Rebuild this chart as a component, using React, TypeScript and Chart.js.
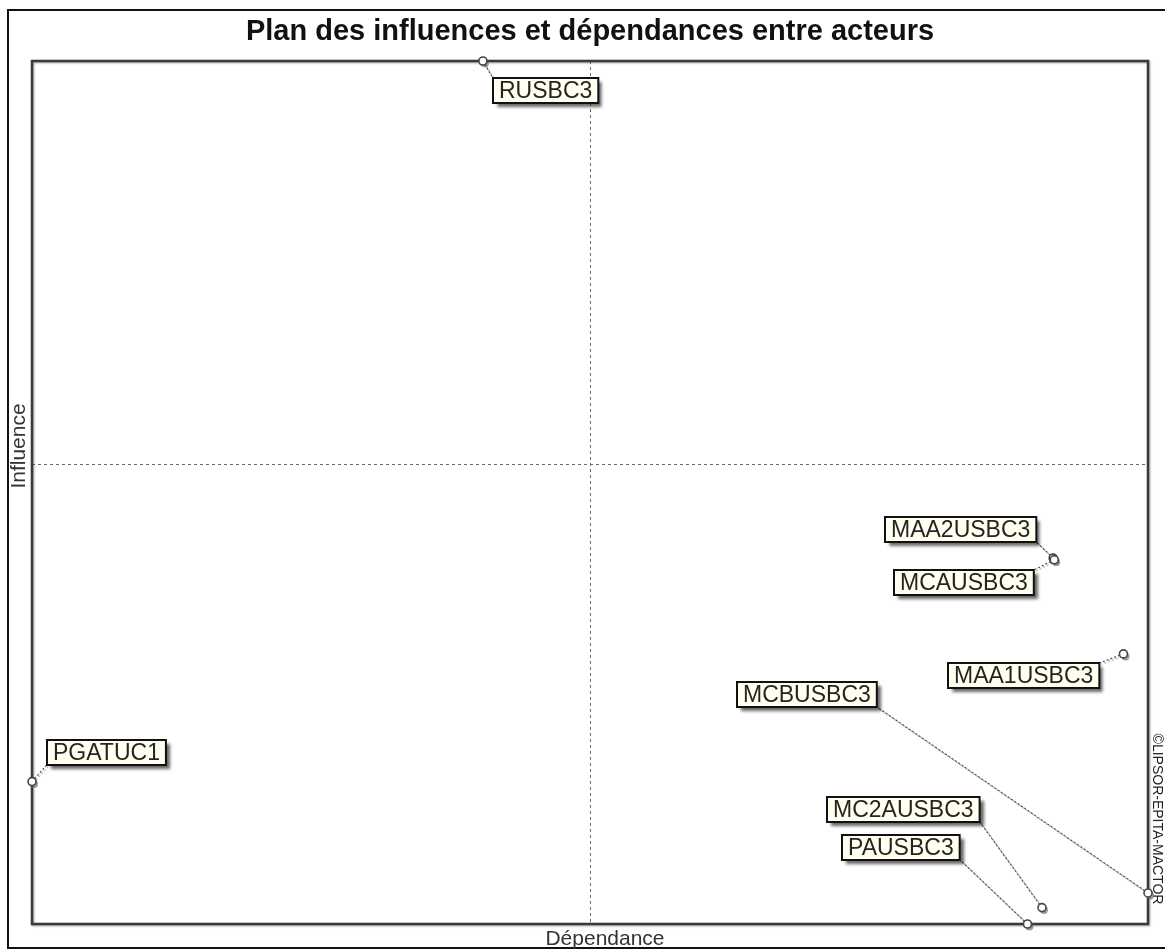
import React, { useEffect, useRef } from "react";
import { Chart, registerables } from "chart.js";

Chart.register(...registerables);

const chartTitle = "Plan des influences et dépendances entre acteurs";
const xAxisTitle = "Dépendance";
const yAxisTitle = "Influence";
const watermark = "©LIPSOR-EPITA-MACTOR";

const actors = ["RUSBC3", "MAA2USBC3", "MCAUSBC3", "MAA1USBC3", "MCBUSBC3", "MC2AUSBC3", "PAUSBC3", "PGATUC1"];
const dependance = [40.4, 91.5, 91.6, 97.8, 100, 90.5, 89.2, 0];
const influence = [100, 42.4, 42.2, 31.3, 3.6, 1.9, 0, 16.5];

const dependanceMid = 50.0;
const influenceMid = 53.3;
const axisMin = 0;
const axisMax = 100;

// label box offsets (pixels) relative to each point: [dx, dy] of the box's top-left corner
const labelOffsets: [number, number][] = [
  [10, 17],
  [-168, -41],
  [-160, 10],
  [-175, 9],
  [-411, -211],
  [-215, -111],
  [-185, -89],
  [15, -42],
];

const FONT = '"Liberation Sans", Arial, sans-serif';
const BOX_H = 25;
const BOX_PAD = 6;
const LABEL_FONT = `23px ${FONT}`;

const mactorPlugin = {
  id: "mactor",
  beforeDraw(chart: any) {
    const { ctx } = chart;
    ctx.save();
    ctx.fillStyle = "#ffffff";
    ctx.fillRect(0, 0, chart.width, chart.height);
    ctx.strokeStyle = "#111";
    ctx.lineWidth = 2;
    ctx.strokeRect(8, 10, 1170, 938);
    ctx.fillStyle = "#111";
    ctx.font = `bold 29px ${FONT}`;
    ctx.textAlign = "center";
    ctx.textBaseline = "alphabetic";
    ctx.fillText(chartTitle, 590, 40);
    ctx.font = `21px ${FONT}`;
    ctx.fillStyle = "#333";
    ctx.fillText(xAxisTitle, 605, 945);
    ctx.save();
    ctx.translate(25, 446);
    ctx.rotate(-Math.PI / 2);
    ctx.fillText(yAxisTitle, 0, 0);
    ctx.restore();
    ctx.save();
    ctx.font = `14px ${FONT}`;
    ctx.fillStyle = "#222";
    ctx.translate(1153, 819);
    ctx.rotate(Math.PI / 2);
    ctx.fillText(watermark, 0, 0);
    ctx.restore();
    ctx.restore();
  },
  beforeDatasetsDraw(chart: any) {
    const { ctx, chartArea: a, scales } = chart;
    const x = scales.x;
    const y = scales.y;
    ctx.save();
    const cx = x.getPixelForValue(dependanceMid);
    const cy = y.getPixelForValue(influenceMid);
    ctx.setLineDash([3, 3]);
    ctx.strokeStyle = "#6a6a6a";
    ctx.lineWidth = 1;
    ctx.beginPath();
    ctx.moveTo(Math.round(cx) + 0.5, a.top);
    ctx.lineTo(Math.round(cx) + 0.5, a.bottom);
    ctx.moveTo(a.left, Math.round(cy) + 0.5);
    ctx.lineTo(a.right, Math.round(cy) + 0.5);
    ctx.stroke();
    ctx.setLineDash([]);
    // inner frame with soft shadow
    ctx.save();
    ctx.shadowColor = "rgba(0,0,0,0.35)";
    ctx.shadowOffsetX = 1;
    ctx.shadowOffsetY = 1;
    ctx.shadowBlur = 2;
    ctx.strokeStyle = "#3a3a3a";
    ctx.lineWidth = 2.5;
    ctx.strokeRect(a.left, a.top, a.right - a.left, a.bottom - a.top);
    ctx.restore();
    // leader lines
    const meta = chart.getDatasetMeta(0);
    ctx.font = LABEL_FONT;
    meta.data.forEach((pt: any, i: number) => {
      const w = ctx.measureText(actors[i]).width + BOX_PAD * 2;
      const bx = pt.x + labelOffsets[i][0];
      const by = pt.y + labelOffsets[i][1];
      const corners = [
        [bx, by],
        [bx + w, by],
        [bx, by + BOX_H],
        [bx + w, by + BOX_H],
      ];
      let best = corners[0];
      let bd = Infinity;
      corners.forEach((c) => {
        const d = Math.hypot(c[0] - pt.x, c[1] - pt.y);
        if (d < bd) {
          bd = d;
          best = c;
        }
      });
      ctx.setLineDash([2, 2]);
      ctx.strokeStyle = "rgba(150,150,150,0.6)";
      ctx.lineWidth = 1.5;
      ctx.beginPath();
      ctx.moveTo(pt.x + 1.5, pt.y + 1.5);
      ctx.lineTo(best[0] + 1.5, best[1] + 1.5);
      ctx.stroke();
      ctx.strokeStyle = "#4a4a4a";
      ctx.lineWidth = 1.2;
      ctx.beginPath();
      ctx.moveTo(pt.x, pt.y);
      ctx.lineTo(best[0], best[1]);
      ctx.stroke();
      ctx.setLineDash([]);
      // point shadow
      ctx.fillStyle = "rgba(90,90,90,0.6)";
      ctx.beginPath();
      ctx.arc(pt.x + 2, pt.y + 2.5, 4, 0, Math.PI * 2);
      ctx.fill();
    });
    ctx.restore();
  },
  afterDatasetsDraw(chart: any) {
    const { ctx } = chart;
    const meta = chart.getDatasetMeta(0);
    ctx.save();
    ctx.font = LABEL_FONT;
    meta.data.forEach((pt: any, i: number) => {
      const tw = ctx.measureText(actors[i]).width;
      const w = tw + BOX_PAD * 2;
      const bx = Math.round(pt.x + labelOffsets[i][0]);
      const by = Math.round(pt.y + labelOffsets[i][1]);
      ctx.save();
      ctx.shadowColor = "rgba(0,0,0,0.6)";
      ctx.shadowOffsetX = 4;
      ctx.shadowOffsetY = 4;
      ctx.shadowBlur = 3;
      ctx.fillStyle = "#fffff0";
      ctx.fillRect(bx, by, w, BOX_H);
      ctx.restore();
      ctx.strokeStyle = "#111";
      ctx.lineWidth = 2;
      ctx.strokeRect(bx, by, w, BOX_H);
      ctx.fillStyle = "#2a2222";
      ctx.textAlign = "left";
      ctx.textBaseline = "middle";
      ctx.fillText(actors[i], bx + BOX_PAD, by + BOX_H / 2 + 1);
    });
    ctx.restore();
  },
};

export default function App() {
  const canvasRef = useRef<HTMLCanvasElement>(null);
  useEffect(() => {
    if (!canvasRef.current) return;
    const chart = new Chart(canvasRef.current, {
      type: "scatter",
      data: {
        labels: actors,
        datasets: [
          {
            label: "Acteurs",
            data: dependance.map((d, i) => ({ x: d, y: influence[i] })),
            pointRadius: 4,
            pointHoverRadius: 4,
            pointStyle: "circle",
            borderColor: "#444",
            backgroundColor: "#ffffff",
            borderWidth: 1.6,
            clip: false as any,
          },
        ],
      },
      options: {
        responsive: false,
        maintainAspectRatio: false,
        animation: false,
        layout: { padding: { left: 32, top: 61, right: 17, bottom: 26 } },
        scales: {
          x: { type: "linear", min: axisMin, max: axisMax, display: false },
          y: { type: "linear", min: axisMin, max: axisMax, display: false },
        },
        plugins: {
          legend: { display: false },
          title: { display: false },
          tooltip: { enabled: false },
        },
        events: [],
      },
      plugins: [mactorPlugin],
    });
    return () => chart.destroy();
  }, []);
  return (
    <canvas
      ref={canvasRef}
      width={1165}
      height={950}
      style={{ position: "fixed", left: 0, top: 0, width: 1165, height: 950 }}
    />
  );
}
